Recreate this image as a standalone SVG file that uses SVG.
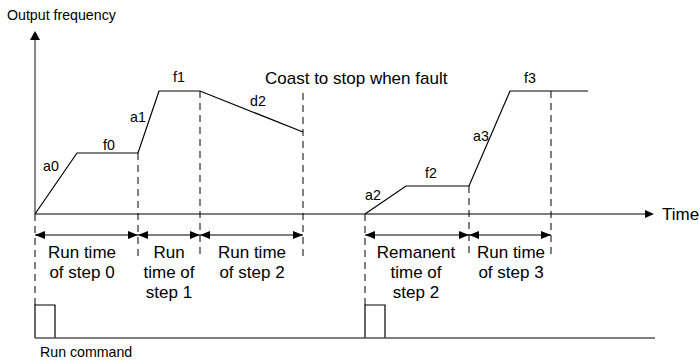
<svg xmlns="http://www.w3.org/2000/svg" width="700" height="363" viewBox="0 0 700 363">
<style>
text{font-family:"Liberation Sans",Arial,sans-serif;fill:#000}
.sm{font-size:14.2px}
.lg{font-size:17px}
.ax{stroke:#555;stroke-width:1.4;fill:none}
.pr{stroke:#000;stroke-width:1.2;fill:none}
.ds{stroke:#000;stroke-width:1;stroke-dasharray:7,5;fill:none}
.dim{stroke:#000;stroke-width:1.2;fill:none;marker-start:url(#as);marker-end:url(#ae)}
</style>
<defs>
<marker id="ae" markerWidth="10" markerHeight="8" refX="10" refY="4" orient="auto" markerUnits="userSpaceOnUse"><path d="M0,0L10,4L0,8Z" fill="#000"/></marker>
<marker id="as" markerWidth="10" markerHeight="8" refX="0" refY="4" orient="auto" markerUnits="userSpaceOnUse"><path d="M10,0L0,4L10,8Z" fill="#000"/></marker>
</defs>
<rect width="700" height="363" fill="#fff"/>
<g id="axes">
<line class="ax" x1="35" y1="214" x2="35" y2="40"/>
<path d="M30,40L35,31L40,40Z" fill="#000"/>
<line class="ax" x1="35" y1="214" x2="645" y2="214"/>
<path d="M645,210L654,214L645,218Z" fill="#000"/>
<text class="sm" x="7" y="20">Output frequency</text>
<text class="lg" x="662" y="220">Time</text>
</g>
<g id="connectors">
<polyline class="pr" points="35,214 77,153 138,153 159,91 200,91 303,132"/>
<polyline class="pr" points="365,214 406,186 469,186 510,91 588,91"/>
<line class="ds" x1="35" y1="214" x2="35" y2="305"/>
<line class="ds" x1="138" y1="153" x2="138" y2="258"/>
<line class="ds" x1="200" y1="91" x2="200" y2="258"/>
<line class="ds" x1="303" y1="93" x2="303" y2="258"/>
<line class="ds" x1="365" y1="214" x2="365" y2="305"/>
<line class="ds" x1="469" y1="186" x2="469" y2="258"/>
<line class="ds" x1="551" y1="91" x2="551" y2="258"/>
<line class="dim" x1="35" y1="235" x2="138" y2="235"/>
<line class="dim" x1="138" y1="235" x2="200" y2="235"/>
<line class="dim" x1="200" y1="235" x2="303" y2="235"/>
<line class="dim" x1="365" y1="235" x2="469" y2="235"/>
<line class="dim" x1="469" y1="235" x2="551" y2="235"/>
</g>
<g id="labels">
<text class="sm" x="43" y="171">a0</text>
<text class="sm" x="103" y="150">f0</text>
<text class="sm" x="130" y="122">a1</text>
<text class="sm" x="173" y="82">f1</text>
<text class="sm" x="250" y="106">d2</text>
<text class="sm" x="365" y="200">a2</text>
<text class="sm" x="425" y="178">f2</text>
<text class="sm" x="473" y="141">a3</text>
<text class="sm" x="524" y="83">f3</text>
<text class="lg" x="265" y="84">Coast to stop when fault</text>
</g>
<g id="step0" class="lg" text-anchor="middle">
<text x="82" y="258">Run time</text>
<text x="82" y="278">of step 0</text>
</g>
<g id="step1" class="lg" text-anchor="middle">
<text x="169" y="258">Run</text>
<text x="169" y="278">time of</text>
<text x="169" y="298">step 1</text>
</g>
<g id="step2" class="lg" text-anchor="middle">
<text x="252" y="258">Run time</text>
<text x="252" y="278">of step 2</text>
</g>
<g id="remanent" class="lg" text-anchor="middle">
<text x="416" y="258">Remanent</text>
<text x="416" y="278">time of</text>
<text x="416" y="298">step 2</text>
</g>
<g id="step3" class="lg" text-anchor="middle">
<text x="511" y="258">Run time</text>
<text x="511" y="278">of step 3</text>
</g>
<g id="runcommand">
<polyline class="pr" points="35,338 35,305 55,305 55,338"/>
<polyline class="pr" points="365,338 365,305 385,305 385,338"/>
<line x1="35" y1="338" x2="655" y2="338" stroke="#555" stroke-width="1.4"/>
<text class="sm" x="40" y="357">Run command</text>
</g>
</svg>
